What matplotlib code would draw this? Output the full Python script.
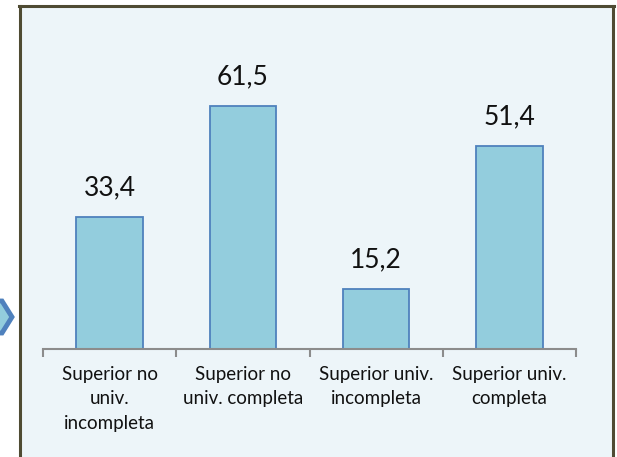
import matplotlib.pyplot as plt
from matplotlib.patches import Rectangle, Polygon

# Nivel educativo superior - porcentajes
categorias = [
    "Superior no\nuniv.\nincompleta",
    "Superior no\nuniv. completa",
    "Superior univ.\nincompleta",
    "Superior univ.\ncompleta",
]
valores = [33.4, 61.5, 15.2, 51.4]
etiquetas = ["33,4", "61,5", "15,2", "51,4"]

W, H = 617, 457
fig = plt.figure(figsize=(W / 100, H / 100), dpi=100)
fig.patch.set_facecolor("white")

# marco del grafico (sin borde inferior)
fondo = Rectangle((20 / W, 0), 593 / W, 1 - 6 / H, transform=fig.transFigure,
                  facecolor="#EDF5F9", edgecolor="none", zorder=-5)
fig.add_artist(fondo)
for xs, ys in [([20, 20], [0, 1 - 6 / H]), ([613, 613], [0, 1 - 6 / H]),
               ([19, 614], [1 - 6 / H, 1 - 6 / H])]:
    fig.add_artist(plt.Line2D([v / W for v in xs], ys, color="#4F4B33", lw=2.2,
                              transform=fig.transFigure, zorder=-4))

# flecha lateral
flecha = [(-3, 301), (2, 301), (12, 317), (2, 333), (-3, 333)]
fig.add_artist(Polygon([(x / W, 1 - y / H) for x, y in flecha], closed=True,
                       transform=fig.transFigure, facecolor="#93CDDD",
                       edgecolor="#4F81BD", lw=3.5, zorder=-4))

# ejes: base en y=349, categorias de x=43 a x=576
ax = fig.add_axes([43 / W, 1 - 349 / H, 533 / W, 276.5 / H])
ax.set_facecolor("none")
x = range(len(valores))
ax.bar(x, valores, width=0.5, color="#93CDDD", edgecolor="#4F81BD", linewidth=1.3)
for xi, v, t in zip(x, valores, etiquetas):
    ax.text(xi, v + 4.3, t, ha="center", va="bottom", fontsize=19,
            family="Lato", color="#111111")

ax.set_xlim(-0.5, len(valores) - 0.5)
ax.set_ylim(0, 70)
for s in ["top", "right", "left"]:
    ax.spines[s].set_visible(False)
ax.spines["bottom"].set_color("#8C8C8C")
ax.spines["bottom"].set_linewidth(1.5)
ax.set_yticks([])
ax.set_xticks([-0.5, 0.5, 1.5, 2.5, 3.5])
ax.set_xticklabels([])
ax.tick_params(axis="x", length=6, width=1.5, color="#8C8C8C")
ax.set_xticks(list(x), minor=True)
ax.set_xticklabels(categorias, minor=True, fontsize=13.5, family="Lato",
                   color="#111111", linespacing=1.55)
ax.tick_params(axis="x", which="minor", length=0, pad=12)

fig.savefig("out.png", dpi=100)
